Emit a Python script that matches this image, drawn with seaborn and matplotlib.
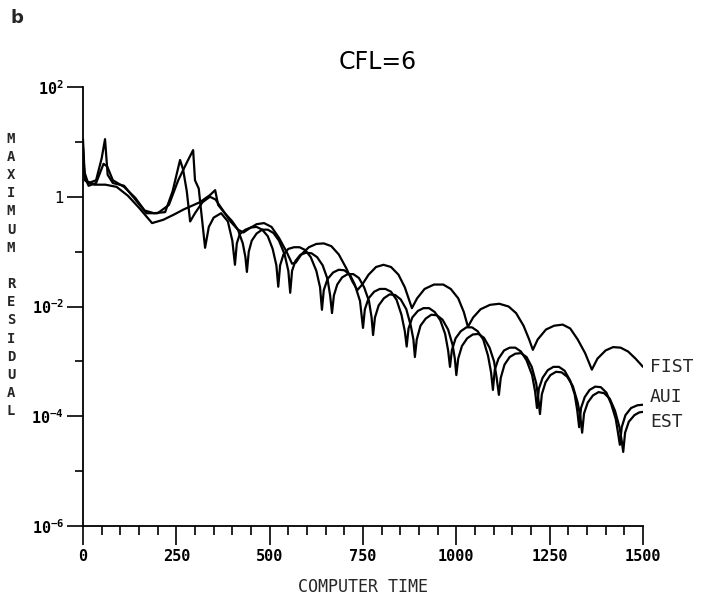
import numpy as np
import pandas as pd
import matplotlib
matplotlib.use("Agg")
import matplotlib.pyplot as plt
import seaborn as sns
from matplotlib.ticker import FixedLocator, FixedFormatter

# ---- data (x = computer time, exponent = log10 residual) ----
fist_x = [0, 4, 12, 30, 60, 90, 120, 150, 185, 215, 245, 270, 313, 340, 354, 362, 380, 400, 415, 430,
          445, 465, 485, 505, 525, 545, 560, 570, 585, 605, 625, 645, 665, 685, 705, 722, 735, 748,
          765, 785, 805, 825, 845, 862, 881, 895, 915, 940, 965, 985, 1005, 1020, 1031, 1045, 1065,
          1090, 1115, 1140, 1160, 1180, 1195, 1205, 1218, 1240, 1262, 1285, 1305, 1325, 1345, 1363,
          1378, 1400, 1420, 1440, 1460, 1480, 1500]
fist_exp = [1.05, 0.45, 0.28, 0.22, 0.22, 0.18, 0.02, -0.2, -0.48, -0.42, -0.32, -0.23, -0.1, 0.03,
            0.12, -0.15, -0.3, -0.45, -0.6, -0.65, -0.58, -0.5, -0.48, -0.55, -0.75, -1.0, -1.22,
            -1.2, -1.05, -0.92, -0.86, -0.85, -0.9, -1.05, -1.3, -1.55, -1.7, -1.6, -1.42, -1.28,
            -1.24, -1.28, -1.42, -1.65, -2.03, -1.85, -1.68, -1.6, -1.6, -1.68, -1.85, -2.1, -2.37,
            -2.2, -2.05, -1.97, -1.95, -2.0, -2.12, -2.35, -2.6, -2.79, -2.6, -2.42, -2.35, -2.33,
            -2.4, -2.6, -2.85, -3.15, -2.95, -2.8, -2.74, -2.75, -2.82, -2.95, -3.1]

aui_x = [0, 5, 15, 35, 50, 59, 66, 80, 110, 140, 170, 200, 230, 255, 280, 295, 300, 310, 327, 337,
         350, 370, 388, 400, 407, 412, 420, 435, 450, 465, 480, 495, 508, 518, 523, 528, 537, 550,
         565, 580, 595, 610, 625, 635, 640, 645, 655, 670, 685, 700, 715, 728, 742, 750, 755, 765,
         780, 795, 810, 825, 840, 853, 862, 867, 872, 882, 897, 912, 927, 942, 957, 970, 978, 983,
         988, 998, 1012, 1027, 1042, 1057, 1072, 1085, 1093, 1098, 1103, 1113, 1128, 1143, 1158,
         1173, 1188, 1203, 1211, 1216, 1221, 1231, 1245, 1260, 1275, 1290, 1305, 1317, 1324, 1329,
         1334, 1344, 1357, 1372, 1387, 1402, 1415, 1427, 1433, 1438, 1443, 1453, 1468, 1485, 1500]
aui_exp = [0.9, 0.3, 0.25, 0.3, 0.7, 1.05, 0.4, 0.25, 0.2, -0.05, -0.3, -0.3, -0.15, 0.3, 0.65, 0.85,
           0.3, 0.15, -0.93, -0.55, -0.38, -0.3, -0.45, -0.8, -1.24, -0.85, -0.68, -0.6, -0.56,
           -0.55, -0.6, -0.72, -0.95, -1.25, -1.64, -1.25, -1.05, -0.95, -0.92, -0.92, -0.97, -1.1,
           -1.35, -1.65, -2.06, -1.7, -1.5, -1.38, -1.33, -1.34, -1.42, -1.6, -1.9, -2.39, -2.05,
           -1.85, -1.73, -1.68, -1.68, -1.73, -1.88, -2.15, -2.45, -2.73, -2.4, -2.2, -2.08, -2.03,
           -2.03, -2.1, -2.25, -2.5, -2.8, -3.1, -2.8, -2.58, -2.45, -2.38, -2.38, -2.45, -2.6,
           -2.9, -3.2, -3.52, -3.15, -2.95, -2.8, -2.75, -2.75, -2.82, -2.98, -3.25, -3.55, -3.85,
           -3.5, -3.3, -3.16, -3.1, -3.1, -3.17, -3.35, -3.6, -3.9, -4.2, -3.85, -3.65, -3.52,
           -3.46, -3.47, -3.57, -3.78, -4.05, -4.3, -4.52, -4.2, -3.98, -3.85, -3.8, -3.79]

est_x = [0, 5, 15, 35, 55, 65, 80, 110, 140, 165, 190, 220, 240, 260, 268, 278, 287, 300, 320, 340,
         355, 375, 395, 415, 428, 435, 439, 444, 452, 465, 480, 495, 510, 525, 540, 550, 555, 560,
         569, 582, 597, 612, 627, 642, 655, 662, 667, 672, 681, 694, 709, 724, 739, 753, 766, 773,
         777, 782, 792, 806, 821, 836, 851, 866, 878, 885, 889, 894, 904, 918, 933, 948, 963, 978,
         990, 996, 1000, 1005, 1015, 1029, 1044, 1059, 1074, 1089, 1101, 1108, 1114, 1119, 1129,
         1143, 1158, 1173, 1188, 1202, 1214, 1220, 1224, 1229, 1239, 1252, 1267, 1282, 1297, 1312,
         1325, 1332, 1337, 1342, 1352, 1366, 1381, 1396, 1411, 1425, 1437, 1443, 1447, 1452, 1462,
         1477, 1490, 1500]
est_exp = [0.7, 0.35, 0.2, 0.25, 0.6, 0.55, 0.3, 0.18, -0.02, -0.25, -0.3, -0.28, 0.1, 0.67, 0.5,
           0.1, -0.45, -0.3, -0.1, 0.0, -0.05, -0.25, -0.45, -0.6, -0.85, -1.1, -1.37, -1.0, -0.8,
           -0.67, -0.6, -0.6, -0.66, -0.8, -1.05, -1.35, -1.75, -1.35, -1.17, -1.06, -1.02, -1.03,
           -1.1, -1.25, -1.5, -1.8, -2.12, -1.8, -1.6, -1.47, -1.41, -1.41, -1.48, -1.65, -1.9,
           -2.2, -2.52, -2.2, -1.98, -1.85, -1.78, -1.79, -1.87, -2.05, -2.35, -2.6, -2.92, -2.6,
           -2.35, -2.22, -2.15, -2.16, -2.24, -2.42, -2.7, -2.95, -3.25, -2.95, -2.72, -2.58, -2.51,
           -2.5, -2.57, -2.75, -3.0, -3.3, -3.61, -3.3, -3.06, -2.92, -2.86, -2.85, -2.92, -3.1,
           -3.4, -3.7, -3.96, -3.6, -3.38, -3.25, -3.19, -3.2, -3.28, -3.45, -3.75, -4.0, -4.3,
           -3.95, -3.75, -3.62, -3.56, -3.58, -3.68, -3.9, -4.2, -4.45, -4.65, -4.3, -4.1, -3.98,
           -3.93, -3.92]

schemes = ["FIST", "AUI", "EST"]
label_exp = [-3.1, -3.65, -4.1]          # where the curve names sit
x_ticks = [0, 250, 500, 750, 1000, 1250, 1500]
x_tick_labels = ["0", "250", "500", "750", "1000", "1250", "1500"]
y_ticks = [1e-6, 1e-4, 1e-2, 1, 1e2]
y_tick_labels = [r"$10^{-6}$", r"$10^{-4}$", r"$10^{-2}$", "1", r"$10^{2}$"]
y_minor = [1e-5, 1e-3, 1e-1, 1e1]
title = "CFL=6"
xlabel = "COMPUTER TIME"
ylabel = "MAXIMUM RESIDUAL"

frames = []
for name, xs, es in [("FIST", fist_x, fist_exp), ("AUI", aui_x, aui_exp), ("EST", est_x, est_exp)]:
    frames.append(pd.DataFrame({"time": xs, "residual": 10.0 ** np.array(es), "scheme": name}))
df = pd.concat(frames, ignore_index=True)

sns.set_style("white")
plt.rcParams["font.family"] = ["DejaVu Sans"]
plt.rcParams["mathtext.fontset"] = "custom"
plt.rcParams["mathtext.rm"] = "DejaVu Sans Mono:bold"
plt.rcParams["mathtext.it"] = "DejaVu Sans Mono:bold"
plt.rcParams["mathtext.bf"] = "DejaVu Sans Mono:bold"

W, H = 708, 597
fig = plt.figure(figsize=(W / 100, H / 100), dpi=100)
L, R, T, B = 83, 643, 87, 526
ax = fig.add_axes([L / W, 1 - B / H, (R - L) / W, (B - T) / H])

sns.lineplot(data=df, x="time", y="residual", hue="scheme", units="scheme", estimator=None,
             palette={s: "black" for s in schemes}, legend=False, ax=ax, linewidth=1.6, sort=True)

ax.set_yscale("log")
ax.set_xlim(0, 1500)
ax.set_ylim(1e-6, 1e2)
for s in ["top", "right"]:
    ax.spines[s].set_visible(False)
for s in ["left", "bottom"]:
    ax.spines[s].set_linewidth(1.3)
    ax.spines[s].set_color("black")

ax.xaxis.set_major_locator(FixedLocator(x_ticks))
ax.xaxis.set_major_formatter(FixedFormatter(x_tick_labels))
ax.xaxis.set_minor_locator(FixedLocator(list(range(0, 1501, 50))))
ax.yaxis.set_major_locator(FixedLocator(y_ticks))
ax.yaxis.set_major_formatter(FixedFormatter(y_tick_labels))
ax.yaxis.set_minor_locator(FixedLocator(y_minor))
ax.yaxis.set_minor_formatter(FixedFormatter([""] * len(y_minor)))

ax.tick_params(axis="both", which="both", bottom=True, left=True, top=False, right=False,
               color="black")
ax.tick_params(axis="x", which="major", direction="out", length=13.5, width=1.2, pad=3,
               labelsize=11, labelcolor="black")
ax.tick_params(axis="x", which="minor", direction="out", length=6.5, width=1.2)
ax.tick_params(axis="y", which="major", direction="out", length=11.5, width=1.2, pad=2,
               labelsize=11, labelcolor="black")
ax.tick_params(axis="y", which="minor", direction="out", length=5.5, width=1.2)
for lab in ax.get_xticklabels():
    lab.set_fontfamily("DejaVu Sans Mono")
    lab.set_fontweight("bold")

ax.set_xlabel(xlabel, fontfamily="DejaVu Sans Mono", fontsize=12, labelpad=10)
ax.set_ylabel("\n".join(ylabel), rotation=0, fontfamily="DejaVu Sans Mono", fontweight="bold",
              fontsize=10, linespacing=1.38, va="center", ha="center")
ax.yaxis.set_label_coords((11 - L) / (R - L), (B - 275) / (B - T))

for name, e in zip(schemes, label_exp):
    ax.text(1519, 10.0 ** e, name, fontfamily="DejaVu Sans Mono", fontsize=13,
            va="center", ha="left", clip_on=False)

fig.text(378 / W, 1 - 62 / H, title, fontsize=17, ha="center", va="center", color="black")
fig.text(17 / W, 1 - 18 / H, "b", fontsize=13, fontweight="bold", ha="center", va="center")

fig.savefig("out.png", dpi=100, facecolor="white")
